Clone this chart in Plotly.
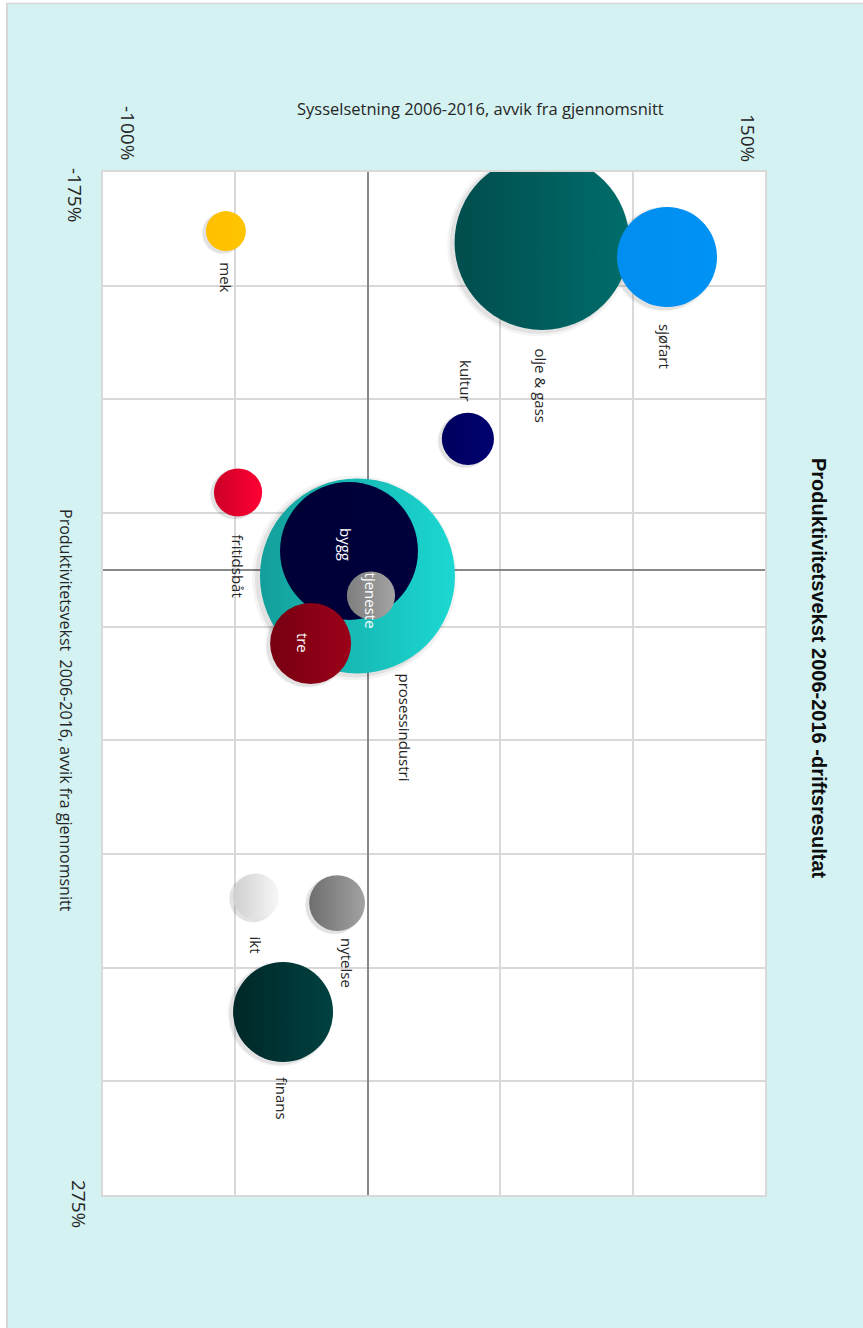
import plotly.graph_objects as go

# Bransjer: sysselsetting (avvik, %), produktivitetsvekst (avvik, %), driftsresultat (boblestørrelse)
bransjer = ["prosessindustri", "bygg", "tjeneste", "tre", "olje & gass", "sjøfart",
            "mek", "kultur", "fritidsbåt", "ikt", "nytelse", "finans"]
sysselsetting = [-3.9, -7.1, 1.2, -21.6, 65.8, 113.0, -53.6, 37.8, -49.0, -42.2, -11.6, -32.0]
produktivitet = [2.7, -8.3, 11.3, 32.4, -144.0, -137.6, -149.0, -57.6, -34.0, 143.7, 146.6, 194.5]
driftsresultat = [95.1, 47.6, 5.8, 16.4, 76.6, 25.0, 4.0, 6.8, 5.8, 5.3, 7.8, 25.0]

# Fargeforløp (mørk side / lys side) for hver boble
farge_a = ["#139f9b", "#000036", "#7f7f7f", "#760011", "#004d4d", "#008ef0",
           "#ffbf00", "#00005e", "#cc0028", "#cfcfcf", "#6e6e6e", "#002727"]
farge_b = ["#1cd8d2", "#00003c", "#a3a3a3", "#9c0019", "#006d6a", "#0092f5",
           "#ffc400", "#000070", "#ff0033", "#f7f7f7", "#a2a2a2", "#004141"]

# Etikettplassering (piksler fra boblesenter) og tekstfarge
etikett_dx = [48, -3, 0, -8, -2, -2, 0, -2, 0, 0, 10, -1]
etikett_dy = [152, -7, 5, -1, 143, 89, 46, -58, 73, 48, 60, 86]
etikett_farge = ["#262626", "white", "white", "white", "#262626", "#262626",
                 "#262626", "#262626", "#262626", "#262626", "#262626", "#262626"]

x_range = [-100, 150]
y_range = [-175, 275]
x_ticks = ["-100%", "150%"]
y_ticks = ["-175%", "275%"]

W, H = 863, 1328
L, R, T, B = 103, 98, 172, 133
PW, PH = W - L - R, H - T - B
BG = "#d4f2f1"
TXT = "#262626"
LABEL_FONT = "Open Sans"
MAX_D = 195  # diameter of the largest bubble in px

# shadow offset in px (left / down), converted to axis units
SH_DX, SH_DY = 3, 2
sx_shift = SH_DX * (x_range[1] - x_range[0]) / PW
sy_shift = SH_DY * (y_range[1] - y_range[0]) / PH

fig = go.Figure()

# soft drop shadows (drawn on the lower, shifted subplot)
for k, alpha in [(1.05, 0.06), (1.02, 0.10)]:
    fig.add_trace(go.Scatter(
        x=sysselsetting, y=produktivitet, mode="markers", xaxis="x", yaxis="y",
        marker=dict(size=driftsresultat, sizemode="area",
                    sizeref=2 * max(driftsresultat) / ((MAX_D * k) ** 2),
                    color=f"rgba(0,0,0,{alpha})", line=dict(width=0)),
        hoverinfo="skip", showlegend=False,
    ))

# bubbles
fig.add_trace(go.Scatter(
    x=sysselsetting, y=produktivitet, mode="markers", xaxis="x2", yaxis="y2",
    marker=dict(
        size=driftsresultat, sizemode="area",
        sizeref=2 * max(driftsresultat) / (MAX_D ** 2),
        color=farge_a,
        gradient=dict(type="horizontal", color=farge_b),
        line=dict(width=0), opacity=1,
    ),
    hoverinfo="skip", showlegend=False,
))

ann = []
for navn, sx, py, dx, dy, fc in zip(bransjer, sysselsetting, produktivitet,
                                     etikett_dx, etikett_dy, etikett_farge):
    ann.append(dict(x=sx, y=py, xref="x2", yref="y2", text=navn, showarrow=False,
                    textangle=90, xshift=dx, yshift=-dy, xanchor="center", yanchor="middle",
                    font=dict(family=LABEL_FONT, size=15, color=fc)))

tick_font = dict(family=LABEL_FONT, size=19, color=TXT)
# Endepunktene på aksene
ann += [
    dict(x=x_range[0], y=1, xref="x2", yref="paper", text=x_ticks[0], showarrow=False,
         textangle=90, xshift=25, yshift=39, xanchor="center", yanchor="middle", font=tick_font),
    dict(x=x_range[1], y=1, xref="x2", yref="paper", text=x_ticks[1], showarrow=False,
         textangle=90, xshift=-17, yshift=34, xanchor="center", yanchor="middle", font=tick_font),
    dict(x=0, y=y_range[0], xref="paper", yref="y2", text=y_ticks[0], showarrow=False,
         textangle=90, xshift=-28, yshift=-23, xanchor="center", yanchor="middle", font=tick_font),
    dict(x=0, y=y_range[1], xref="paper", yref="y2", text=y_ticks[1], showarrow=False,
         textangle=90, xshift=-24, yshift=-9, xanchor="center", yanchor="middle", font=tick_font),
]

# Aksetitler og diagramtittel
ann += [
    dict(x=(480 - L) / PW, y=1 + (T - 108) / PH, xref="paper", yref="paper",
         xanchor="center", yanchor="middle",
         text="Sysselsetning 2006-2016, avvik fra gjennomsnitt", showarrow=False,
         font=dict(family=LABEL_FONT, size=16.5, color=TXT)),
    dict(x=(66 - L) / PW, y=1 - (710 - T) / PH, xref="paper", yref="paper",
         xanchor="center", yanchor="middle",
         text="Produktivitetsvekst  2006-2016, avvik fra gjennomsnitt", showarrow=False,
         textangle=90, font=dict(family=LABEL_FONT, size=16, color=TXT)),
    dict(x=(819 - L) / PW, y=1 - (668 - T) / PH, xref="paper", yref="paper",
         xanchor="center", yanchor="middle",
         text="<b>Produktivitetsvekst 2006-2016 -driftsresultat</b>", showarrow=False,
         textangle=90, font=dict(family="Liberation Sans", size=20, color="#0d0d0d")),
]

# Hvit kant rundt diagramflaten og grå ramme
px_x = lambda p: (p - L) / PW
px_y = lambda p: 1 - (p - T) / PH
shapes = [
    dict(type="rect", xref="paper", yref="paper", x0=px_x(0), x1=px_x(6.5), y0=px_y(H + 5), y1=px_y(-5),
         fillcolor="white", line=dict(width=0), layer="above"),
    dict(type="rect", xref="paper", yref="paper", x0=px_x(0), x1=px_x(W + 5), y0=px_y(3), y1=px_y(-5),
         fillcolor="white", line=dict(width=0), layer="above"),
    dict(type="line", xref="paper", yref="paper", x0=px_x(7), x1=px_x(7), y0=px_y(H + 5), y1=px_y(3),
         line=dict(color="#d6d6d6", width=2), layer="above"),
    dict(type="line", xref="paper", yref="paper", x0=px_x(7), x1=px_x(W + 5), y0=px_y(3.5), y1=px_y(3.5),
         line=dict(color="#d6d6d6", width=1.5), layer="above"),
]

axis_common = dict(showticklabels=False, ticks="", showgrid=True, gridcolor="#d9d9d9", gridwidth=1.5,
                   zeroline=True, zerolinecolor="#888888", zerolinewidth=1.5,
                   showline=True, linecolor="#d9d9d9", linewidth=1.5, mirror=True)
hidden = dict(visible=False, showgrid=False, zeroline=False)

fig.update_layout(
    width=W, height=H, margin=dict(l=L, r=R, t=T, b=B),
    paper_bgcolor=BG, plot_bgcolor="white",
    xaxis=dict(range=[x_range[0] + sx_shift, x_range[1] + sx_shift], **hidden),
    yaxis=dict(range=[y_range[1] - sy_shift, y_range[0] - sy_shift], **hidden),
    xaxis2=dict(range=x_range, tick0=x_range[0], dtick=50, overlaying="x", anchor="y2", **axis_common),
    yaxis2=dict(range=[y_range[1], y_range[0]], tick0=y_range[0], dtick=50, overlaying="y", anchor="x2",
                **axis_common),
    annotations=ann, shapes=shapes,
)

fig.write_html("out.html")
